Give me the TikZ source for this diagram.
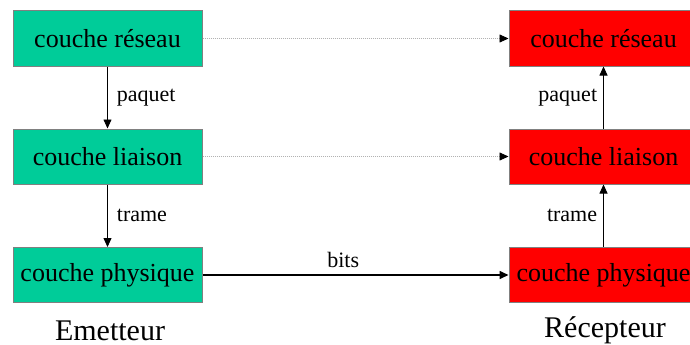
\documentclass[tikz,border=0pt]{standalone}
\usepackage{fontspec}
\setmainfont{Liberation Serif}
\usetikzlibrary{arrows.meta}
\definecolor{emgreen}{RGB}{0,204,153}
\definecolor{recred}{RGB}{255,0,0}

\tikzset{layer/.style={draw=gray,line width=1pt,minimum width=189pt,minimum height=55pt,inner sep=0pt,font=\fontsize{26}{26}\selectfont},
em/.style={layer,fill=emgreen},
rec/.style={layer,fill=recred},
lbl/.style={font=\fontsize{22}{22}\selectfont,inner sep=0pt},
side/.style={font=\fontsize{30}{30}\selectfont,inner sep=0pt,anchor=base},
up/.style={-{Triangle[length=9pt,width=8pt]},line width=0.8pt},
peer/.style={-{Triangle[length=9pt,width=8pt,color=black,line width=0.8pt]},draw=gray!60,line width=0.7pt,dash pattern=on 1pt off 1pt}}

\begin{document}
\begin{tikzpicture}[x=1pt,y=-1pt]
\useasboundingbox (0,0) rectangle (690,345);
\path
(107.5,38.5) node[em](e1){couche réseau}
(107.5,156.5) node[em](e2){couche liaison}
(107.5,275) node[em](e3){couche physique}
(603.5,38.5) node[rec](r1){couche réseau}
(603.5,156.5) node[rec](r2){couche liaison}
(603.5,275) node[rec](r3){couche physique};
\path[draw,up] (e1)--node[lbl,right=9pt]{paquet}(e2);
\path[draw,up] (e2)--node[lbl,right=9pt]{trame}(e3);
\path[draw,up] (r3)--node[lbl,left=6pt]{trame}(r2);
\path[draw,up] (r2)--node[lbl,left=6pt]{paquet}(r1);
\path[draw,peer] (e1)--(r1);
\path[draw,peer] (e2)--(r2);
\path[draw,up,line width=1.6pt] (e3)--node[lbl,above=6pt,pos=0.46]{bits}(r3);
\node[side] (em) at (110,340) {Emetteur};
\node[side] (rc) at (605,337) {Récepteur};
\end{tikzpicture}
\end{document}
